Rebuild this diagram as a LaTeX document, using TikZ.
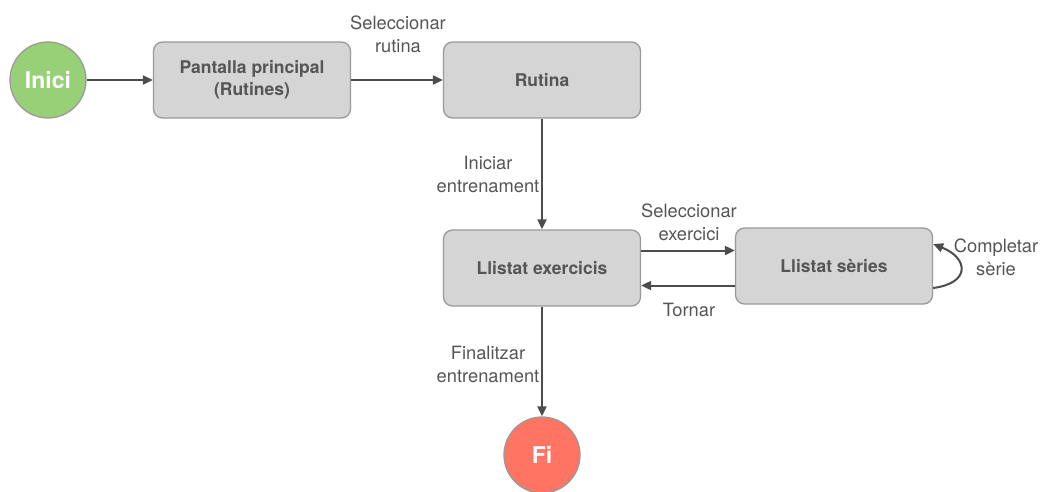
\documentclass[tikz,border=0pt]{standalone}
\usepackage{fontspec}
\setmainfont{TeX Gyre Heros}
\usetikzlibrary{arrows.meta}
\definecolor{boxfill}{HTML}{D5D5D5}
\definecolor{boxline}{HTML}{9A9A9A}
\definecolor{ink}{HTML}{555555}
\definecolor{wire}{HTML}{4D4D4D}
\definecolor{startfill}{HTML}{97D077}
\definecolor{endfill}{HTML}{FF7462}
\begin{document}
\begin{tikzpicture}[x=1pt,y=-1pt,
  screen/.style={draw=boxline, line width=1.3pt, fill=boxfill, rounded corners=9pt,
    minimum width=197pt, minimum height=76pt, align=center, text=ink,
    font=\fontsize{17.5}{22}\selectfont\bfseries},
  terminal/.style={circle, draw=boxline, line width=1.3pt, minimum size=76pt,
    inner sep=0pt, text=white, font=\fontsize{23}{26}\selectfont\bfseries},
  flow/.style={draw=wire, line width=2pt, -{Triangle[length=10pt,width=9pt]}},
  lbl/.style={text=ink, align=center, inner sep=0pt,
    font=\fontsize{18.3}{23}\selectfont}]
  \useasboundingbox (0,0) rectangle (1040,491);

  % states
  \node[terminal, fill=startfill] (inici) at (48,80) {Inici};
  \node[screen] (pantalla) at (252,80) {Pantalla principal\\(Rutines)};
  \node[screen] (rutina) at (542,80) {Rutina};
  \node[screen] (exer) at (542,268) {Llistat exercicis};
  \node[screen] (series) at (834,266) {Llistat sèries};
  \node[terminal, fill=endfill] (fi) at (542,455) {Fi};

  % transitions
  \draw[flow] (inici) -- (pantalla);
  \draw[flow] (pantalla) -- (rutina);
  \draw[flow] (rutina) -- (exer);
  \draw[flow] ([yshift=17.5pt]exer.east) -- ([yshift=17.5pt]exer.east -| series.west);
  \draw[flow] ([yshift=-19.5pt]series.west) -- ([yshift=-19.5pt]series.west -| exer.east);
  \draw[flow] ([yshift=-22pt]series.east) .. controls +(38,-5) and +(35,14) .. ([yshift=22pt]series.east);
  \draw[flow] (exer) -- (fi);

  % transition labels
  \node[lbl] (lrutina) at (398,34) {Seleccionar\\rutina};
  \node[lbl] (liniciar) at (488,174) {Iniciar\\entrenament};
  \node[lbl] (lselex) at (689,222) {Seleccionar\\exercici};
  \node[lbl] (ltornar) at (689,310) {Tornar};
  \node[lbl] (lcompletar) at (996,257) {Completar\\sèrie};
  \node[lbl] (lfinal) at (488,364) {Finalitzar\\entrenament};
\end{tikzpicture}
\end{document}
